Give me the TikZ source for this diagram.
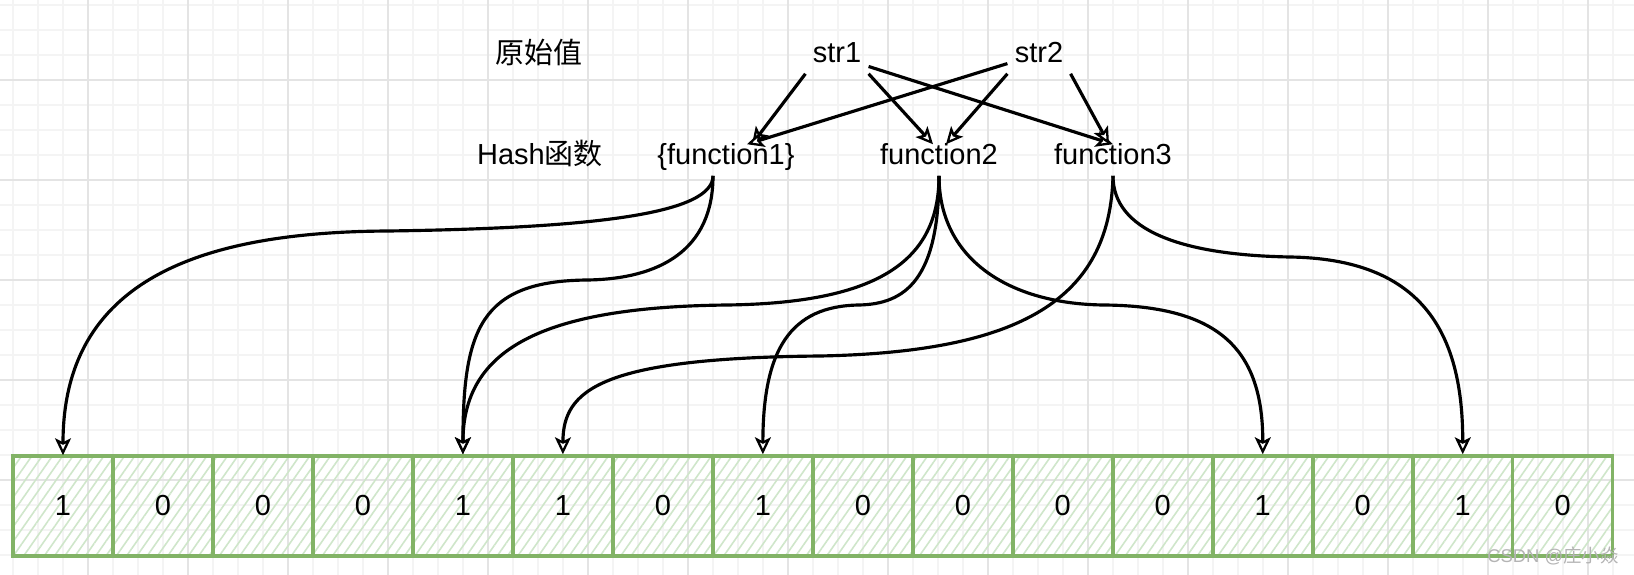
\documentclass[tikz,border=0pt]{standalone}
\usepackage{fontspec}
\setmainfont{Liberation Sans}
\newfontfamily\cjk{Noto Sans CJK SC}
\usetikzlibrary{arrows.meta,patterns.meta}
\definecolor{cellgreen}{HTML}{82B366}
\definecolor{hatchgreen}{HTML}{CFE6CA}
\definecolor{gridmajor}{HTML}{E4E4E4}
\definecolor{gridminor}{HTML}{F4F4F4}
\definecolor{markgray}{HTML}{B4B4B4}

\begin{document}
\begin{tikzpicture}[x=0.02cm,y=-0.02cm,
    >={Stealth[length=0.34cm,width=0.32cm,inset=0.08cm,fill=white,line width=1.3pt]},
    line width=1.8pt,node distance=2cm,
    bit/.style={rectangle,draw=cellgreen,line width=2pt,minimum size=2cm,inner sep=0pt,
      pattern={Lines[angle=55,distance=4.8pt,line width=0.9pt]},pattern color=hatchgreen,
      font=\fontsize{16.5}{20}\selectfont},
    word/.style={font=\fontsize{16.5}{20}\selectfont,text height=0.75em,text depth=0.2em}]

\useasboundingbox[fill=white] (0,0) rectangle (1634,575);

% grid
\foreach \gx in {13,38,...,1634} \draw[gridminor,line width=0.6pt] (\gx,0) -- (\gx,575);
\foreach \gy in {5,30,...,575} \draw[gridminor,line width=0.6pt] (0,\gy) -- (1634,\gy);
\foreach \gx in {88,188,...,1634} \draw[gridmajor,line width=0.6pt] (\gx,0) -- (\gx,575);
\foreach \gy in {80,180,...,575} \draw[gridmajor,line width=0.6pt] (0,\gy) -- (1634,\gy);

% labels
\node[word] (orig) at (539,59) {\cjk 原始值};
\node[word] (hash) at (540,160) {Hash{\cjk 函数}};
\node[word] (str1) at (837,58) {str1};
\node[word] (str2) at (1039,58) {str2};
\node[word] (fun1) at (726,160) {\{function1\}};
\node[word] (fun2) at (939,160) {function2};
\node[word] (fun3) at (1113,160) {function3};

% bit array
\node[bit] (b0) at (63,506) {1};
\node[bit] (b1) [right of=b0] {0};
\node[bit] (b2) [right of=b1] {0};
\node[bit] (b3) [right of=b2] {0};
\node[bit] (b4) [right of=b3] {1};
\node[bit] (b5) [right of=b4] {1};
\node[bit] (b6) [right of=b5] {0};
\node[bit] (b7) [right of=b6] {1};
\node[bit] (b8) [right of=b7] {0};
\node[bit] (b9) [right of=b8] {0};
\node[bit] (b10) [right of=b9] {0};
\node[bit] (b11) [right of=b10] {0};
\node[bit] (b12) [right of=b11] {1};
\node[bit] (b13) [right of=b12] {0};
\node[bit] (b14) [right of=b13] {1};
\node[bit] (b15) [right of=b14] {0};

% values to hash functions
\path[->]
(str1.south west) edge ([xshift=0.52cm]fun1.north)
(str2.190) edge ([xshift=0.42cm]fun1.north)
(str1.south east) edge ([xshift=-0.12cm]fun2.north)
(str2.south west) edge ([xshift=0.14cm]fun2.north)
(str1.-15) edge (fun3.north)
(str2.south east) edge ([xshift=-0.08cm]fun3.north)
;

% hash functions to bits
\draw[->] ([xshift=-0.26cm]fun1.south) .. controls (713,213) and (600,228) .. (388,231)
  .. controls (200,232) and (63,280) .. (b0.north);
\draw[->] ([xshift=-0.26cm]fun1.south) .. controls (713,250) and (660,279) .. (587,280)
  .. controls (480,281) and (463,330) .. (b4.north);
\draw[->] (fun2.south) .. controls (939,260) and (880,303) .. (727,305)
  .. controls (540,307) and (463,350) .. (b4.north);
\draw[->] (fun2.south) .. controls (939,280) and (905,304) .. (859,305)
  .. controls (790,306) and (763,350) .. (b7.north);
\draw[->] (fun2.south) .. controls (939,260) and (1010,304) .. (1104,305)
  .. controls (1220,306) and (1263,350) .. (b12.north);
\draw[->] (fun3.south) .. controls (1110,300) and (1020,352) .. (820,356)
  .. controls (600,358) and (563,390) .. (b5.north);
\draw[->] (fun3.south) .. controls (1113,230) and (1180,255) .. (1290,257)
  .. controls (1420,259) and (1463,330) .. (b14.north);

\node[markgray,font=\fontsize{10.5}{12}\selectfont] (mark) at (1553,556) {CSDN @{\cjk 庄小焱}};

\end{tikzpicture}
\end{document}
